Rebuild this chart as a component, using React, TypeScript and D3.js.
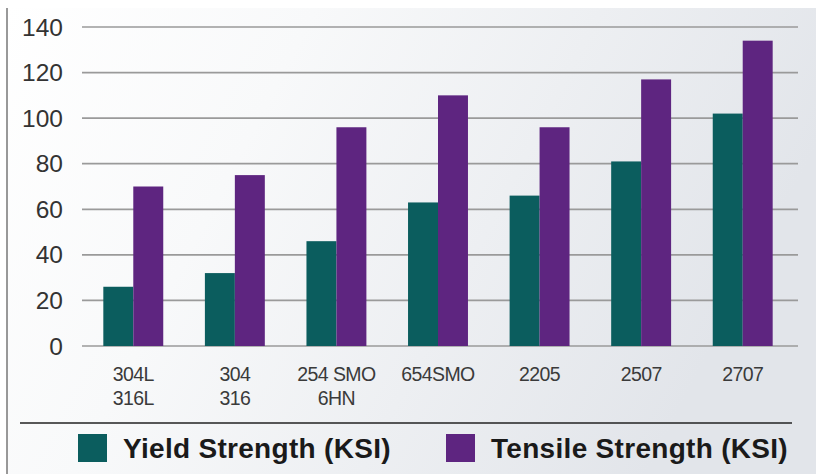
import React from "react";
import * as d3 from "d3";

const categories = ["304L|316L", "304|316", "254 SMO|6HN", "654SMO", "2205", "2507", "2707"];
const yieldStrength = [26, 32, 46, 63, 66, 81, 102];
const tensileStrength = [70, 75, 96, 110, 96, 117, 134];
const yTicks = [0, 20, 40, 60, 80, 100, 120, 140];
const seriesNames = ["Yield Strength (KSI)", "Tensile Strength (KSI)"];
const seriesColors = ["#0b5d5e", "#5e2580"];

export default function App() {
  const W = 816;
  const H = 474;
  const y = d3.scaleLinear().domain([0, 140]).range([346, 27]);
  const x = d3
    .scaleBand<string>()
    .domain(categories)
    .range([82.5, 793.5])
    .paddingInner(0.41)
    .paddingOuter(0.205);
  const inner = d3
    .scaleBand<number>()
    .domain([0, 1])
    .range([0, x.bandwidth()]);
  const series = [yieldStrength, tensileStrength];

  return (
    <svg
      width={W}
      height={H}
      style={{ position: "absolute", left: 0, top: 0 }}
      xmlns="http://www.w3.org/2000/svg"
    >
      <defs>
        <linearGradient id="bg" x1="0" y1="0" x2="1" y2="0.3">
          <stop offset="0" stopColor="#ffffff" />
          <stop offset="0.35" stopColor="#f8f9fa" />
          <stop offset="1" stopColor="#e2e5ea" />
        </linearGradient>
      </defs>
      <rect x={0} y={0} width={W} height={H} fill="#ffffff" />
      <rect x={7} y={8} width={W - 7} height={H - 8} fill="url(#bg)" />
      <line x1={7} x2={7} y1={8} y2={H} stroke="#777" strokeWidth={1.5} />

      {yTicks.map((t) => (
        <g key={t}>
          <line x1={82} x2={798} y1={y(t)} y2={y(t)} stroke="#9a9a9a" strokeWidth={1.7} />
          <text
            x={63}
            y={y(t) + 8.5}
            textAnchor="end"
            fontFamily="Liberation Sans, Arial, sans-serif"
            fontSize={24.5}
            fill="#333"
          >
            {t}
          </text>
        </g>
      ))}

      {categories.map((c, i) => (
        <g key={c}>
          {series.map((s, j) => (
            <rect
              key={j}
              x={(x(c) as number) + (inner(j) as number)}
              y={y(s[i])}
              width={inner.bandwidth()}
              height={y(0) - y(s[i])}
              fill={seriesColors[j]}
            />
          ))}
          {c.split("|").map((line, k) => (
            <text
              key={k}
              x={(x(c) as number) + x.bandwidth() / 2}
              y={381 + k * 24}
              textAnchor="middle"
              fontFamily="Liberation Sans, Arial, sans-serif"
              fontSize={19.5}
              letterSpacing={-0.6}
              fill="#3a3a3a"
            >
              {line}
            </text>
          ))}
        </g>
      ))}

      <line x1={20} x2={792} y1={423} y2={423} stroke="#222" strokeWidth={1.6} />

      {seriesNames.map((n, j) => {
        const sx = j === 0 ? 78 : 446;
        return (
          <g key={n}>
            <rect x={sx} y={434} width={29} height={28} fill={seriesColors[j]} />
            <text
              x={sx + 45}
              y={458}
              fontFamily="Liberation Sans, Arial, sans-serif"
              fontWeight="bold"
              fontSize={28}
              letterSpacing={0.3}
              fill="#1a1a1a"
            >
              {n}
            </text>
          </g>
        );
      })}
    </svg>
  );
}
